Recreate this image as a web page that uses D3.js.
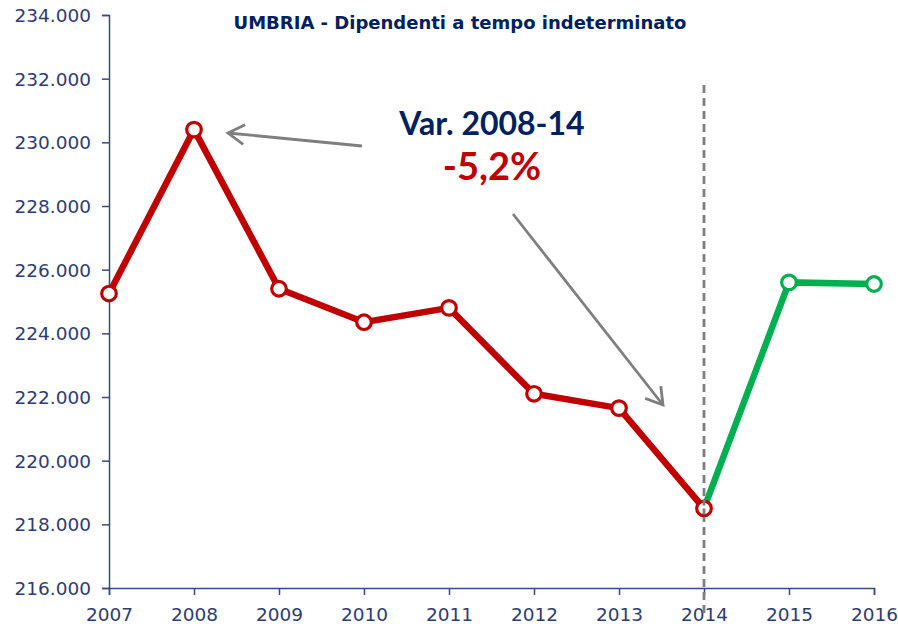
<!DOCTYPE html>
<html>
<head>
<meta charset="utf-8">
<script src="https://cdn.jsdelivr.net/npm/d3@7"></script>
<style>
  body { margin: 0; background: #fff; }
  svg { font-family: Lato, "Open Sans", sans-serif; }
  .axis path, .axis line { stroke: #3b4a7c; stroke-width: 1.5; }
  .axis text { fill: #2e3d70; font-size: 18.5px; font-family: "DejaVu Sans", sans-serif; }
</style>
</head>
<body>
<div id="chart"></div>
<script>
// data
var years = [2007, 2008, 2009, 2010, 2011, 2012, 2013, 2014, 2015, 2016];
var dipendenti = [225250, 230400, 225400, 224350, 224800, 222100, 221650, 218500, 225600, 225550];
var yTicks = [216000, 218000, 220000, 222000, 224000, 226000, 228000, 230000, 232000, 234000];
var splitYear = 2014;

var width = 898, height = 627;
var margin = {top: 15, right: 24, bottom: 39, left: 109};

var svg = d3.select('#chart').append('svg')
  .attr('width', width)
  .attr('height', height);

var x = d3.scaleLinear()
  .domain([2007, 2016])
  .range([margin.left, width - margin.right]);

var y = d3.scaleLinear()
  .domain([216000, 234000])
  .range([height - margin.bottom, margin.top]);

var fmt = function(d){ return d3.format(',')(d).replace(/,/g, '.'); };

// y axis
svg.append('g')
  .attr('class', 'axis')
  .attr('transform', 'translate(' + margin.left + ',0)')
  .call(d3.axisLeft(y).tickValues(yTicks).tickSize(7).tickSizeOuter(7).tickPadding(11).tickFormat(fmt))
  .selectAll('text').attr('dy', '0.35em');

// x axis
svg.append('g')
  .attr('class', 'axis')
  .attr('transform', 'translate(0,' + (height - margin.bottom) + ')')
  .call(d3.axisBottom(x).tickValues(years).tickSize(7).tickSizeOuter(7).tickPadding(13).tickFormat(d3.format('d')));

// dashed line at 2014
svg.append('line')
  .attr('x1', x(splitYear)).attr('x2', x(splitYear))
  .attr('y1', 85).attr('y2', height - 14)
  .attr('stroke', '#7f7f7f')
  .attr('stroke-width', 2.8)
  .attr('stroke-dasharray', '8,5');

var pts = years.map(function(d, i){ return {year: d, value: dipendenti[i]}; });
var red = pts.filter(function(d){ return d.year <= splitYear; });
var green = pts.filter(function(d){ return d.year >= splitYear; });

var line = d3.line()
  .x(function(d){ return x(d.year); })
  .y(function(d){ return y(d.value); });

svg.append('path').datum(green)
  .attr('d', line).attr('fill', 'none')
  .attr('stroke', '#00b050').attr('stroke-width', 6.5);

svg.append('path').datum(red)
  .attr('d', line).attr('fill', 'none')
  .attr('stroke', '#c00000').attr('stroke-width', 6.5);

svg.selectAll('circle.g').data(green.slice(1)).enter().append('circle')
  .attr('cx', function(d){ return x(d.year); })
  .attr('cy', function(d){ return y(d.value); })
  .attr('r', 7.3).attr('fill', '#fff')
  .attr('stroke', '#00b050').attr('stroke-width', 3.2);

svg.selectAll('circle.r').data(red).enter().append('circle')
  .attr('cx', function(d){ return x(d.year); })
  .attr('cy', function(d){ return y(d.value); })
  .attr('r', 7.3).attr('fill', '#fff')
  .attr('stroke', '#c00000').attr('stroke-width', 3.2);

// dashed line again over the 2014 marker
svg.append('line')
  .attr('x1', x(splitYear)).attr('x2', x(splitYear))
  .attr('y1', y(dipendenti[7]) - 9).attr('y2', y(dipendenti[7]) + 9)
  .attr('stroke', '#7f7f7f')
  .attr('stroke-width', 2.8)
  .attr('stroke-dasharray', '6,3');

// title
svg.append('text')
  .attr('x', 460).attr('y', 29)
  .attr('text-anchor', 'middle')
  .attr('fill', '#002060')
  .attr('font-weight', 'bold')
  .attr('font-size', '18px')
  .style('font-family', '"DejaVu Sans", sans-serif')
  .text('UMBRIA - Dipendenti a tempo indeterminato');

// annotation
svg.append('text')
  .attr('x', 492).attr('y', 135)
  .attr('text-anchor', 'middle')
  .attr('fill', '#002060')
  .attr('font-weight', 'bold')
  .attr('font-size', '32px')
  .text('Var. 2008-14');

svg.append('text')
  .attr('x', 492).attr('y', 180)
  .attr('text-anchor', 'middle')
  .attr('fill', '#c00000')
  .attr('font-weight', 'bold')
  .attr('font-size', '38px')
  .text('-5,2%');

// arrows
function arrow(x1, y1, x2, y2){
  var a = Math.atan2(y2 - y1, x2 - x1), L = 19, w = 0.55;
  svg.append('line')
    .attr('x1', x1).attr('y1', y1).attr('x2', x2).attr('y2', y2)
    .attr('stroke', '#7f7f7f').attr('stroke-width', 2.8);
  svg.append('path')
    .attr('d', 'M' + (x2 - L * Math.cos(a - w)) + ',' + (y2 - L * Math.sin(a - w)) +
      'L' + x2 + ',' + y2 +
      'L' + (x2 - L * Math.cos(a + w)) + ',' + (y2 - L * Math.sin(a + w)))
    .attr('fill', 'none').attr('stroke', '#7f7f7f').attr('stroke-width', 2.8)
    .attr('stroke-linejoin', 'miter');
}
arrow(362, 146, 228, 133);
arrow(513, 214, 663, 405);
</script>
</body>
</html>
